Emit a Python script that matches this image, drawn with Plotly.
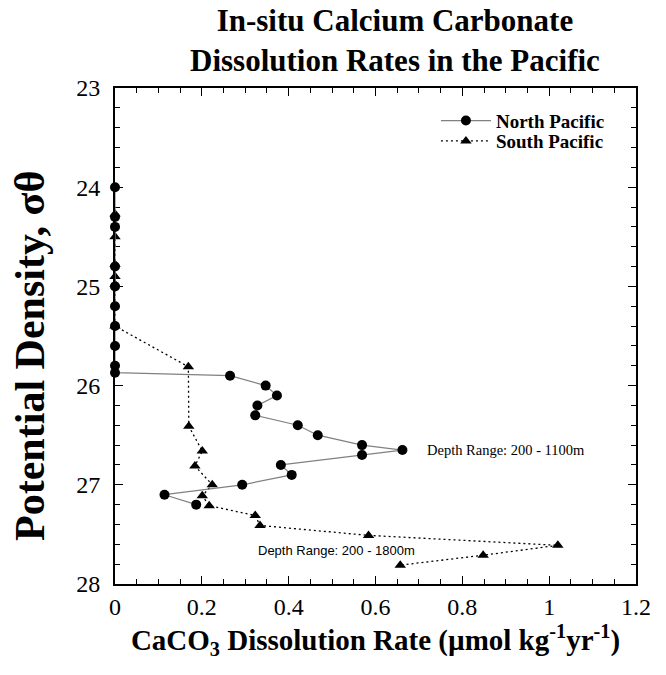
import plotly.graph_objects as go

# North Pacific (circles, solid line)
north_rate = [0, 0, 0, 0, 0, 0, 0, 0, 0, 0,
              0.265, 0.347, 0.373, 0.328, 0.323, 0.421, 0.467, 0.569, 0.662, 0.569,
              0.382, 0.407, 0.293, 0.114, 0.187]
north_sigma = [24.0, 24.3, 24.4, 24.8, 25.0, 25.2, 25.4, 25.6, 25.8, 25.87,
               25.9, 26.0, 26.1, 26.2, 26.3, 26.4, 26.5, 26.6, 26.65, 26.7,
               26.8, 26.9, 27.0, 27.1, 27.2]

# South Pacific (triangles, dotted line)
south_rate = [0, 0, 0, 0, 0, 0,
              0.169, 0.170, 0.201, 0.184, 0.224, 0.201, 0.217, 0.323, 0.334,
              0.584, 1.02, 0.848, 0.657]
south_sigma = [24.27, 24.5, 24.78, 24.9, 24.98, 25.4,
               25.81, 26.41, 26.66, 26.81, 27.0, 27.11, 27.21, 27.31, 27.41,
               27.51, 27.61, 27.71, 27.81]

x_ticks = [0, 0.2, 0.4, 0.6, 0.8, 1.0, 1.2]
x_ticklabels = ["0", "0.2", "0.4", "0.6", "0.8", "1", "1.2"]
y_ticks = [23, 24, 25, 26, 27, 28]

serif = "Liberation Serif, Times New Roman, serif"
sans = "Liberation Sans, Arial, sans-serif"

fig = go.Figure()
fig.add_trace(go.Scatter(
    x=south_rate, y=south_sigma, mode="lines+markers", name="<b>South Pacific</b>",
    line=dict(color="black", width=1.3, dash="2px,3px"),
    marker=dict(symbol="triangle-up", size=10, color="black"),
    cliponaxis=False, legend="legend2"))
fig.add_trace(go.Scatter(
    x=north_rate, y=north_sigma, mode="lines+markers", name="<b>North Pacific</b>",
    line=dict(color="#808080", width=1.2),
    marker=dict(symbol="circle", size=10, color="black"),
    cliponaxis=False, legend="legend"))

fig.add_annotation(x=0.714, y=26.65, xref="x", yref="y", xanchor="left", yanchor="middle",
                   text="Depth Range: 200 - 1100m", showarrow=False,
                   font=dict(family=serif, size=14.5, color="black"))
fig.add_annotation(x=0.325, y=27.66, xref="x", yref="y", xanchor="left", yanchor="middle",
                   text="Depth Range: 200 - 1800m", showarrow=False,
                   font=dict(family=sans, size=13, color="black"))

# Title
fig.add_annotation(x=0.537, y=1.0949, xref="paper", yref="paper", xanchor="center", yanchor="middle",
                   text="<b>In-situ Calcium Carbonate<br>Dissolution Rates in the Pacific</b>",
                   showarrow=False, align="center",
                   font=dict(family=serif, size=31, color="black"))

# Y axis title
fig.add_annotation(x=-0.163, y=0.46, xref="paper", yref="paper", xanchor="center", yanchor="middle",
                   textangle=-90, showarrow=False,
                   text="<b>Potential Density, σθ</b>",
                   font=dict(family=serif, size=42, color="black"))

axis_common = dict(
    showline=True, linecolor="black", linewidth=2, mirror="ticks",
    ticks="inside", ticklen=8, tickwidth=1.2, tickcolor="black",
    showgrid=False, zeroline=False, layer="below traces",
    tickfont=dict(family=serif, size=24, color="black"),
)

fig.update_xaxes(
    range=[0, 1.2], tickvals=x_ticks, ticktext=x_ticklabels,
    minor=dict(dtick=0.05, ticks="inside", ticklen=5, tickwidth=1, tickcolor="black"),
    title=dict(text="<b>CaCO<sub>3</sub> Dissolution Rate (µmol kg<sup>-1</sup>yr<sup>-1</sup>)</b>",
               font=dict(family=serif, size=29, color="black"), standoff=0),
    **axis_common)
fig.update_yaxes(
    range=[28, 23], tickvals=y_ticks, ticklabelstandoff=8,
    minor=dict(dtick=0.2, ticks="inside", ticklen=5, tickwidth=1, tickcolor="black"),
    **axis_common)

legend_common = dict(xanchor="left", yanchor="middle", bgcolor="rgba(0,0,0,0)", borderwidth=0,
                     font=dict(family=serif, size=19, color="black"), itemwidth=50)
fig.update_layout(
    width=666, height=675,
    margin=dict(l=115, r=30, t=88, b=91),
    paper_bgcolor="white", plot_bgcolor="white",
    showlegend=True,
    legend=dict(x=0.616, y=0.934, **legend_common),
    legend2=dict(x=0.616, y=0.893, **legend_common),
)

fig.write_html("out.html")
